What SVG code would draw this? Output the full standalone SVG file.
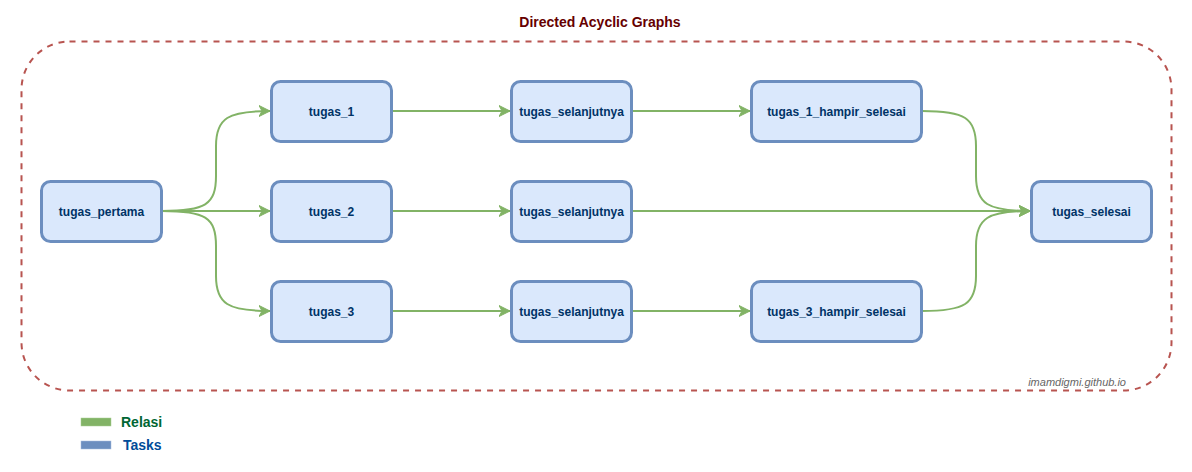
<svg xmlns="http://www.w3.org/2000/svg" width="1192" height="472" viewBox="0 0 1192 472">
<style>
.node rect{fill:#dae8fc;stroke:#6c8ebf;stroke-width:3}
.node text{font-family:"Liberation Sans",Arial,sans-serif;font-size:12px;font-weight:bold;fill:#003366;text-anchor:middle}
.edge{fill:none;stroke:#82b366;stroke-width:2;marker-end:url(#arr)}
</style>
<defs>
<marker id="arr" viewBox="0 0 12 12" refX="11" refY="6" markerWidth="12" markerHeight="12" markerUnits="userSpaceOnUse" orient="auto">
<path d="M0,0.5 L11,6 L0,11.5 L3,6 Z" fill="#82b366" stroke="#82b366" stroke-width="1"/>
</marker>
</defs>
<rect width="1192" height="472" fill="#ffffff"/>
<text x="600" y="27" font-family="'Liberation Sans',Arial,sans-serif" font-size="14" font-weight="bold" fill="#660000" text-anchor="middle">Directed Acyclic Graphs</text>
<g id="container">
<rect x="21.5" y="41.5" width="1150" height="349" rx="48" ry="48" fill="none" stroke="#b85450" stroke-width="2" stroke-dasharray="6 6"/>
<text x="1126" y="386" font-family="'Liberation Sans',Arial,sans-serif" font-size="11" font-style="italic" fill="#666666" text-anchor="end">imamdigmi.github.io</text>
</g>
<g id="connectors">
<path class="edge" d="M162,211 C205,211 216,205 216,176 L216,146 C216,118 228,111 270,111"/>
<path class="edge" d="M162,211 L270,211"/>
<path class="edge" d="M162,211 C205,211 216,217 216,246 L216,276 C216,304 228,311 270,311"/>
<path class="edge" d="M392,111 L510,111"/>
<path class="edge" d="M392,211 L510,211"/>
<path class="edge" d="M392,311 L510,311"/>
<path class="edge" d="M632,111 L750,111"/>
<path class="edge" d="M632,311 L750,311"/>
<path class="edge" d="M632,211 L1030,211"/>
<path class="edge" d="M922,111 C965,111 976,118 976,146 L976,176 C976,204 988,211 1030,211"/>
<path class="edge" d="M922,311 C965,311 976,304 976,276 L976,246 C976,218 988,211 1030,211"/>
</g>
<g id="tugas_pertama" class="node"><rect x="41.5" y="181.5" width="120" height="60" rx="9"/><text x="101.5" y="215.5">tugas_pertama</text></g>
<g id="tugas_1" class="node"><rect x="271.5" y="81.5" width="120" height="60" rx="9"/><text x="331.5" y="115.5">tugas_1</text></g>
<g id="tugas_2" class="node"><rect x="271.5" y="181.5" width="120" height="60" rx="9"/><text x="331.5" y="215.5">tugas_2</text></g>
<g id="tugas_3" class="node"><rect x="271.5" y="281.5" width="120" height="60" rx="9"/><text x="331.5" y="315.5">tugas_3</text></g>
<g id="tugas_selanjutnya_1" class="node"><rect x="511.5" y="81.5" width="120" height="60" rx="9"/><text x="571.5" y="115.5">tugas_selanjutnya</text></g>
<g id="tugas_selanjutnya_2" class="node"><rect x="511.5" y="181.5" width="120" height="60" rx="9"/><text x="571.5" y="215.5">tugas_selanjutnya</text></g>
<g id="tugas_selanjutnya_3" class="node"><rect x="511.5" y="281.5" width="120" height="60" rx="9"/><text x="571.5" y="315.5">tugas_selanjutnya</text></g>
<g id="tugas_1_hampir_selesai" class="node"><rect x="751.5" y="81.5" width="170" height="60" rx="9"/><text x="836.5" y="115.5">tugas_1_hampir_selesai</text></g>
<g id="tugas_3_hampir_selesai" class="node"><rect x="751.5" y="281.5" width="170" height="60" rx="9"/><text x="836.5" y="315.5">tugas_3_hampir_selesai</text></g>
<g id="tugas_selesai" class="node"><rect x="1031.5" y="181.5" width="120" height="60" rx="9"/><text x="1091.5" y="215.5">tugas_selesai</text></g>
<g id="legend">
<rect x="81" y="418" width="30" height="8" fill="#82b366" stroke="#a9cf94" stroke-width="0.5"/>
<text x="121" y="427" font-family="'Liberation Sans',Arial,sans-serif" font-size="14" font-weight="bold" fill="#006633">Relasi</text>
<rect x="81" y="441" width="30" height="8" fill="#6c8ebf" stroke="#a6bde0" stroke-width="0.5"/>
<text x="123" y="450" font-family="'Liberation Sans',Arial,sans-serif" font-size="14" font-weight="bold" fill="#004C99">Tasks</text>
</g>
</svg>
